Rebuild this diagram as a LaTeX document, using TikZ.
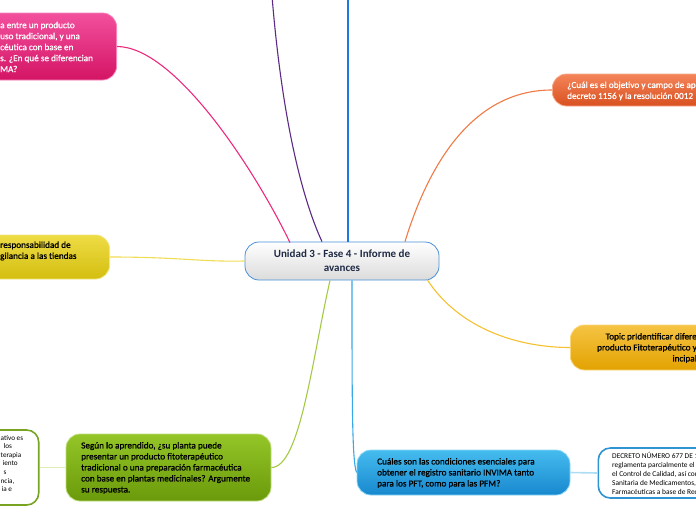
\documentclass[tikz,border=0pt]{standalone}
\usepackage{fontspec}
\setmainfont{Carlito}
\newfontfamily\topicfont{Carlito}[FakeBold=0.9]
\usepackage{xcolor}
\usetikzlibrary{positioning,calc}

\definecolor{pinktop}{HTML}{F2509E}
\definecolor{pinkbot}{HTML}{D41464}
\definecolor{pinkline}{HTML}{EC2A7E}
\definecolor{purpline}{HTML}{5B2A86}
\definecolor{blueline}{HTML}{1F78E0}
\definecolor{orangetop}{HTML}{F4855A}
\definecolor{orangebot}{HTML}{D9501F}
\definecolor{orangeline}{HTML}{F07A45}
\definecolor{yellowtop}{HTML}{EEDC45}
\definecolor{yellowbot}{HTML}{D4BE10}
\definecolor{yellowline}{HTML}{F0DC55}
\definecolor{goldtop}{HTML}{F6C444}
\definecolor{goldbot}{HTML}{E2A200}
\definecolor{goldline}{HTML}{F6C030}
\definecolor{greentop}{HTML}{94C628}
\definecolor{greenbot}{HTML}{6A9A0A}
\definecolor{greenline}{HTML}{A4CA44}
\definecolor{greenpale}{HTML}{DDEEBB}
\definecolor{cyantop}{HTML}{45BCEF}
\definecolor{cyanbot}{HTML}{1888CE}
\definecolor{cyanline}{HTML}{38A8E6}
\definecolor{cyanpale}{HTML}{ACDDF5}
\definecolor{rootedge}{HTML}{4A90D9}
\definecolor{roottext}{HTML}{1F2A44}

\tikzset{
  topicbox/.style={rounded corners=14pt, line width=0.8pt, inner sep=0pt},
  notebox/.style={rounded corners=12pt, line width=1.6pt, fill=white, inner sep=0pt},
  topictext/.style={align=left, inner sep=0pt, font=\topicfont\fontsize{9.2}{11}\selectfont},
  notetext/.style={align=left, inner sep=0pt, font=\fontsize{7.2}{8.6}\selectfont},
  branch/.style={line width=1.1pt}
}

\begin{document}
\begin{tikzpicture}[x=1pt,y=-1pt]
\useasboundingbox (0,0) rectangle (696,520);
\clip (0,0) rectangle (696,520);

% central topic
\node[topicbox, draw=rootedge, top color=white, bottom color=black!14,
  minimum width=194pt, minimum height=38pt, align=center, text=roottext,
  font=\fontsize{11}{14}\selectfont\bfseries] (root) at (342,261)
  {Unidad 3 - Fase 4 - Informe de\\avances};

% pink topic
\node[topicbox, draw=pinktop!70!white, top color=pinktop, bottom color=pinkbot,
  minimum width=250pt, minimum height=67pt, anchor=east] (pink) at (117,46.5) {};
\node[topictext, text=white, anchor=west] (pink-txt) at (0,47)
  {a entre un producto\\uso tradicional, y una\\c\'eutica con base en\\s. ¿En qu\'e se diferencian\\MA?};

% orange topic
\node[topicbox, draw=orangetop!70!white, top color=orangetop, bottom color=orangebot,
  minimum width=250pt, minimum height=32pt, anchor=west] (orange) at (552,90) {};
\node[topictext, text=white, anchor=west] (orange-txt) at (567,91)
  {¿Cu\'al es el objetivo y campo de ap\\decreto 1156 y la resoluci\'on 0012};

% yellow topic
\node[topicbox, draw=yellowtop!70!white, top color=yellowtop, bottom color=yellowbot,
  minimum width=250pt, minimum height=44pt, anchor=east] (yellow) at (110,257) {};
\node[topictext, anchor=west] (yellow-txt) at (0,251)
  {responsabilidad de\\gilancia a las tiendas};

% gold topic
\node[topicbox, draw=goldtop!70!white, top color=goldtop, bottom color=goldbot,
  minimum width=250pt, minimum height=45pt, anchor=west] (gold) at (570,347.5) {};
\node[topictext, align=right, anchor=east] (gold-txt) at (697,348)
  {Topic prIdentificar difere\\producto Fitoterap\'eutico y\\incipal\hspace{7pt}};

% green topic
\node[topicbox, draw=greentop!60!white, top color=greentop, bottom color=greenbot,
  minimum width=205pt, minimum height=67pt] (green) at (168.5,467.5) {};
\node[topictext, anchor=west] (green-txt) at (81,468)
  {Seg\'un lo aprendido, ¿su planta puede\\presentar un producto fitoterap\'eutico\\tradicional o una preparaci\'on farmac\'eutica\\con base en plantas medicinales? Argumente\\su respuesta.};

% green note
\node[notebox, draw=greenbot!90!white, minimum width=150pt, minimum height=75pt,
  anchor=east] (green-note) at (39.5,467.5) {};
\node[notetext, anchor=west] (green-note-txt) at (0.5,463.5)
  {ativo es\\\hspace{3pt}los\\terapia\\\hspace{2pt}iento\\\hspace{3pt}s\\ncia,\\\hspace{1pt}ia e};

% blue topic
\node[topicbox, draw=cyantop!60!white, top color=cyantop, bottom color=cyanbot,
  minimum width=213pt, minimum height=45pt] (cyan) at (463.5,472.5) {};
\node[topictext, anchor=west] (cyan-txt) at (377,473)
  {Cu\'ales son las condiciones esenciales para\\obtener el registro sanitario INVIMA tanto\\para los PFT, como para las PFM?};

% blue note
\node[notebox, draw=cyanbot!90!white, minimum width=150pt, minimum height=50pt,
  anchor=west] (cyan-note) at (597.5,473) {};
\node[notetext, font=\fontsize{7.4}{9}\selectfont, anchor=west] (cyan-note-txt) at (612,473)
  {DECRETO N\'UMERO 677 DE 19\\reglamenta parcialmente el R\\el Control de Calidad, as\'i com\\Sanitaria de Medicamentos, C\\Farmac\'euticas a base de Recu};

% free ends at the top
\coordinate (purple-end) at (272,-4);
\coordinate (blue-end) at (348,-4);

% branches
\draw[branch, pinkline] (pink.east) .. controls (175,46.5) and (255,170) .. ($(root.north)+(-52,1)$);
\draw[branch, purpline] (purple-end) .. controls (283,130) and (305,205) .. ($(root.north)+(-20,0)$);
\draw[branch, blueline, line width=1.4pt] (blue-end) -- ($(root.north)+(6,0)$);
\draw[branch, orangeline] ($(root.north)+(63,0)$) .. controls (430,160) and (475,90) .. (orange.west);
\draw[branch, yellowline] (yellow.east) .. controls (180,257) and (200,262) .. (root.west);
\draw[branch, goldline] ($(root.south)+(85,-1)$) .. controls (460,330) and (520,347.5) .. (gold.west);
\draw[branch, greenline] ($(root.south)+(-12,0)$) .. controls (312,360) and (300,467.5) .. (green.east);
\draw[branch, cyanline] ($(root.south)+(10,0)$) .. controls (352,400) and (352,462) .. (cyan.west);
\draw[branch, greenpale, line width=1.6pt] (green-note.east) -- (green.west);
\draw[branch, cyanpale, line width=1.6pt] (cyan.east) -- (cyan-note.west);
\end{tikzpicture}
\end{document}
